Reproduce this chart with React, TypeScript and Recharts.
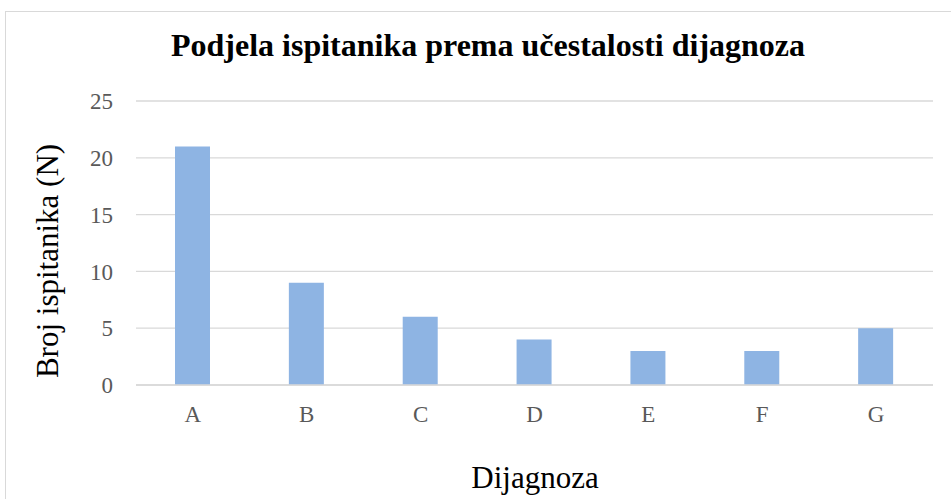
import React from "react";
import { BarChart, Bar, XAxis, YAxis, CartesianGrid } from "recharts";

// ── Data ─────────────────────────────────────────────────────
const categories = ["A", "B", "C", "D", "E", "F", "G"];
const counts = [21, 9, 6, 4, 3, 3, 5];
const yTicks = [0, 5, 10, 15, 20, 25];

const TITLE = "Podjela ispitanika prema učestalosti dijagnoza";
const Y_TITLE = "Broj ispitanika (N)";
const X_TITLE = "Dijagnoza";

const BAR_COLOR = "#8eb4e3";
const GRID_COLOR = "#d9d9d9";
const TICK_COLOR = "#595959";
const SERIF = "'Liberation Serif', 'Times New Roman', serif";

const W = 951;
const H = 499;

export default function App() {
  const data = categories.map((name, i) => ({ name, value: counts[i] }));

  return (
    <div
      style={{
        position: "absolute",
        left: 0,
        top: 0,
        width: W,
        height: H,
        overflow: "hidden",
        background: "#fff",
      }}
    >
      {/* chart frame */}
      <div
        style={{
          position: "absolute",
          left: 5,
          top: 11,
          width: W,
          height: H,
          border: `1px solid ${GRID_COLOR}`,
        }}
      />
      <div style={{ position: "absolute", left: 0, top: 0 }}>
        <BarChart
          width={W}
          height={H}
          data={data}
          margin={{ top: 101, right: 18, bottom: 0, left: 0 }}
        >
          <CartesianGrid vertical={false} stroke={GRID_COLOR} strokeWidth={1.3} />
          <XAxis
            dataKey="name"
            height={114}
            tickLine={false}
            tickSize={0}
            tickMargin={21}
            axisLine={{ stroke: GRID_COLOR, strokeWidth: 1.3 }}
            tick={{ fill: TICK_COLOR, fontSize: 23, fontFamily: SERIF }}
          />
          <YAxis
            width={136}
            domain={[0, 25]}
            ticks={yTicks}
            axisLine={false}
            tickLine={false}
            tickSize={0}
            tickMargin={23}
            tick={{ fill: TICK_COLOR, fontSize: 23, fontFamily: SERIF }}
          />
          <Bar dataKey="value" fill={BAR_COLOR} barSize={35} isAnimationActive={false} />
        </BarChart>
      </div>
      {/* titles */}
      <svg
        width={W}
        height={H}
        style={{ position: "absolute", left: 0, top: 0, pointerEvents: "none" }}
      >
        <text
          x={488}
          y={56}
          textAnchor="middle"
          fontFamily={SERIF}
          fontWeight="bold"
          fontSize={32}
          fill="#000"
        >
          {TITLE}
        </text>
        <text
          x={0}
          y={0}
          transform="translate(58 261) rotate(-90)"
          textAnchor="middle"
          fontFamily={SERIF}
          fontSize={31}
          fill="#000"
        >
          {Y_TITLE}
        </text>
        <text
          x={535}
          y={488}
          textAnchor="middle"
          fontFamily={SERIF}
          fontSize={31}
          fill="#000"
        >
          {X_TITLE}
        </text>
      </svg>
    </div>
  );
}
